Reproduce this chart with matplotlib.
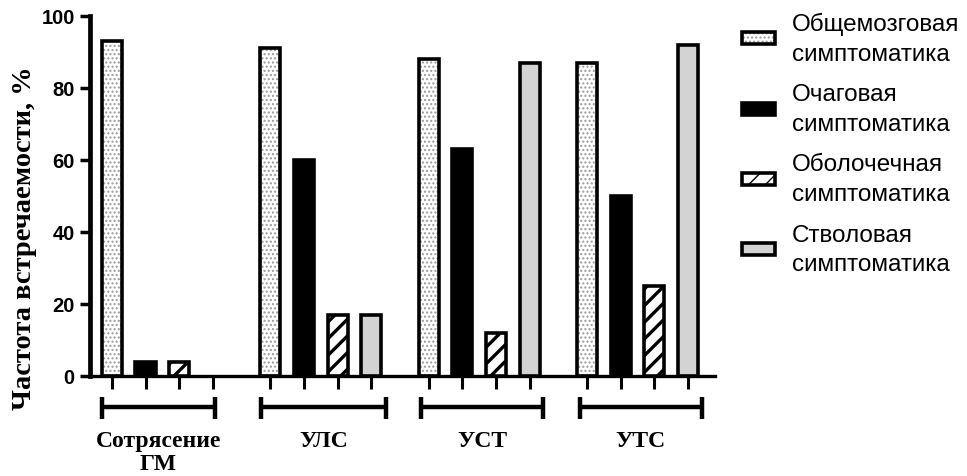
import matplotlib
matplotlib.use("Agg")
import matplotlib.pyplot as plt
from matplotlib.legend_handler import HandlerTuple

# Data: frequency of symptom groups (%) per diagnosis group
groups = ["Сотрясение\nГМ", "УЛС", "УСТ", "УТС"]
series_names = [
    "Общемозговая\nсимптоматика",
    "Очаговая\nсимптоматика",
    "Оболочечная\nсимптоматика",
    "Стволовая\nсимптоматика",
]
general = [93, 91, 88, 87]
focal = [4, 60, 63, 50]
meningeal = [4, 17, 12, 25]
brainstem = [0, 17, 87, 92]
yticks = [0, 20, 40, 60, 80, 100]

values = [general, focal, meningeal, brainstem]

fig = plt.figure(figsize=(9.67, 4.77), dpi=100)
ax = fig.add_axes([90 / 967, 1 - 377 / 477, 625 / 967, 360 / 477])

group_step = 4.7
bar_w = 0.6
edge_lw = 2.6


def set_hatch_lw(patches, lw):
    for p in patches:
        if hasattr(p, "set_hatch_linewidth"):
            p.set_hatch_linewidth(lw)


def tallest(container):
    # legend key taken from a bar that is actually drawn
    return max(container.patches, key=lambda p: p.get_height())


positions = []
handles = []
for s, vals in enumerate(values):
    xs = [g * group_step + s for g in range(len(groups))]
    positions.extend(xs)
    # zero-valued bars get no outline
    lws = [edge_lw if v > 0 else 0 for v in vals]
    if s == 0:
        # dotted fill under a black outline
        dots = ax.bar(xs, vals, bar_w, facecolor="white", edgecolor="#9a9a9a",
                      hatch="....", linewidth=0, zorder=2)
        set_hatch_lw(dots, 1.0)
        outline = ax.bar(xs, vals, bar_w, facecolor="none", edgecolor="black",
                         linewidth=lws, zorder=3)
        handles.append((tallest(dots), tallest(outline)))
    elif s == 1:
        b = ax.bar(xs, vals, bar_w, facecolor="black", edgecolor="black",
                   linewidth=lws, zorder=3)
        handles.append(tallest(b))
    elif s == 2:
        b = ax.bar(xs, vals, bar_w, facecolor="white", edgecolor="black",
                   hatch="//", linewidth=lws, zorder=3)
        set_hatch_lw(b, 2.4)
        handles.append(tallest(b))
    else:
        b = ax.bar(xs, vals, bar_w, facecolor="#d3d3d3", edgecolor="black",
                   linewidth=lws, zorder=3)
        handles.append(tallest(b))

n_series = len(values)
ax.set_xlim(-0.65, (len(groups) - 1) * group_step + n_series - 1 + 0.8)
ax.set_ylim(0, 100)

for side in ("top", "right"):
    ax.spines[side].set_visible(False)
ax.spines["left"].set_linewidth(3.4)
ax.spines["bottom"].set_linewidth(2.4)

ax.set_yticks(yticks)
ax.set_yticklabels([str(v) for v in yticks], fontfamily="Liberation Sans",
                   fontweight="bold", fontsize=14.5)
ax.tick_params(axis="y", direction="out", length=7, width=2.5, pad=4)
ax.set_xticks(sorted(positions))
ax.set_xticklabels([])
ax.tick_params(axis="x", direction="out", length=9, width=2.2)

# group brackets and labels below the axis
bracket_left_pad = [0.3, 0.28, 0.22, 0.2]
bracket_right_pad = [0.06, 0.45, 0.4, 0.4]
for g, name in enumerate(groups):
    x0 = g * group_step - bracket_left_pad[g]
    x1 = g * group_step + n_series - 1 + bracket_right_pad[g]
    ax.plot([x0, x1], [-8.6, -8.6], color="black", lw=3.2, clip_on=False,
            solid_capstyle="butt")
    for xe in (x0, x1):
        ax.plot([xe, xe], [-5.8, -12.0], color="black", lw=3.2, clip_on=False,
                solid_capstyle="butt")
    ax.text((x0 + x1) / 2, -15.0, name, ha="center", va="top",
            fontfamily="Liberation Serif", fontweight="bold", fontsize=17,
            linespacing=1.1)

fig.text(25 / 967, 1 - 238 / 477, "Частота встречаемости, %", rotation=90,
         ha="center", va="center", fontfamily="Liberation Serif",
         fontweight="bold", fontsize=20.5)

leg = fig.legend(handles, series_names, loc="upper left",
                 bbox_to_anchor=(742 / 967, 1 - 13 / 477),
                 bbox_transform=fig.transFigure, frameon=False,
                 prop={"family": "Liberation Sans", "size": 17.5},
                 handlelength=1.36, handleheight=0.4, handletextpad=0.7,
                 labelspacing=0.76, borderpad=0, borderaxespad=0,
                 handler_map={tuple: HandlerTuple(ndivide=1, pad=0)})
for t in leg.get_texts():
    t.set_linespacing(1.45)

fig.savefig("out.png", dpi=100)
